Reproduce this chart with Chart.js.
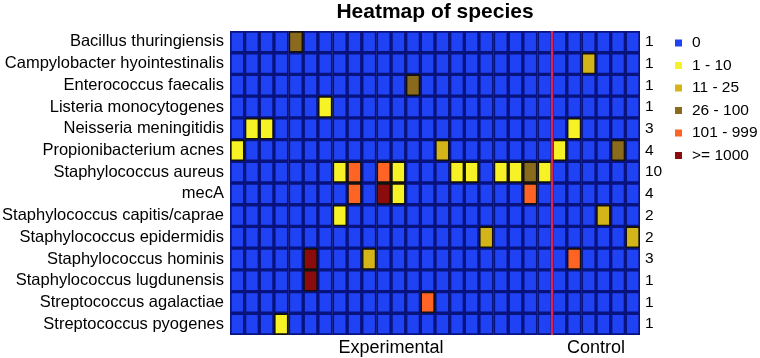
<!DOCTYPE html>
<html>
<head>
<meta charset="utf-8">
<script src="https://cdn.jsdelivr.net/npm/chart.js@4"></script>
<style>
  html, body { margin: 0; padding: 0; background: #fff; }
  #wrap { width: 760px; height: 358px; }
</style>
</head>
<body>
<div id="wrap"><canvas id="c" width="760" height="358"></canvas></div>
<script>
const species = [
  'Bacillus thuringiensis', 'Campylobacter hyointestinalis', 'Enterococcus faecalis',
  'Listeria monocytogenes', 'Neisseria meningitidis', 'Propionibacterium acnes',
  'Staphylococcus aureus', 'mecA', 'Staphylococcus capitis/caprae',
  'Staphylococcus epidermidis', 'Staphylococcus hominis', 'Staphylococcus lugdunensis',
  'Streptococcus agalactiae', 'Streptococcus pyogenes'
];
const counts = [1, 1, 1, 1, 3, 4, 10, 4, 2, 2, 3, 1, 1, 1];
const levelLabels = ['0', '1 - 10', '11 - 25', '26 - 100', '101 - 999', '>= 1000'];
const levelColors = ['#1f42f4', '#f6f226', '#d3b51a', '#8a6a1c', '#ff6424', '#8c0b0c'];
const groupLabels = ['Experimental', 'Control'];
const groupTickAt = [11, 25];
const controlStart = 22;
const nColumns = 28;

// level index per sample column (0 = none, 1 = 1-10, 2 = 11-25, 3 = 26-100, 4 = 101-999, 5 = >=1000)
const bacillus      = [0,0,0,0,3,0,0, 0,0,0,0,0,0,0, 0,0,0,0,0,0,0, 0,0,0,0,0,0,0];
const campylobacter = [0,0,0,0,0,0,0, 0,0,0,0,0,0,0, 0,0,0,0,0,0,0, 0,0,0,2,0,0,0];
const enterococcus  = [0,0,0,0,0,0,0, 0,0,0,0,0,3,0, 0,0,0,0,0,0,0, 0,0,0,0,0,0,0];
const listeria      = [0,0,0,0,0,0,1, 0,0,0,0,0,0,0, 0,0,0,0,0,0,0, 0,0,0,0,0,0,0];
const neisseria     = [0,1,1,0,0,0,0, 0,0,0,0,0,0,0, 0,0,0,0,0,0,0, 0,0,1,0,0,0,0];
const propioni      = [1,0,0,0,0,0,0, 0,0,0,0,0,0,0, 2,0,0,0,0,0,0, 0,1,0,0,0,3,0];
const staphAureus   = [0,0,0,0,0,0,0, 1,4,0,4,1,0,0, 0,1,1,0,1,1,3, 1,0,0,0,0,0,0];
const mecA          = [0,0,0,0,0,0,0, 0,4,0,5,1,0,0, 0,0,0,0,0,0,4, 0,0,0,0,0,0,0];
const staphCapitis  = [0,0,0,0,0,0,0, 1,0,0,0,0,0,0, 0,0,0,0,0,0,0, 0,0,0,0,2,0,0];
const staphEpid     = [0,0,0,0,0,0,0, 0,0,0,0,0,0,0, 0,0,0,2,0,0,0, 0,0,0,0,0,0,2];
const staphHominis  = [0,0,0,0,0,5,0, 0,0,2,0,0,0,0, 0,0,0,0,0,0,0, 0,0,4,0,0,0,0];
const staphLugd     = [0,0,0,0,0,5,0, 0,0,0,0,0,0,0, 0,0,0,0,0,0,0, 0,0,0,0,0,0,0];
const strepAgal     = [0,0,0,0,0,0,0, 0,0,0,0,0,0,4, 0,0,0,0,0,0,0, 0,0,0,0,0,0,0];
const strepPyo      = [0,0,0,1,0,0,0, 0,0,0,0,0,0,0, 0,0,0,0,0,0,0, 0,0,0,0,0,0,0];

const grid = [bacillus, campylobacter, enterococcus, listeria, neisseria, propioni,
  staphAureus, mecA, staphCapitis, staphEpid, staphHominis, staphLugd, strepAgal, strepPyo];

const FONT = '"Liberation Sans", Arial, Helvetica, sans-serif';

const datasets = [];
for (let c = 0; c < nColumns; c++) {
  datasets.push({
    label: 'col' + c,
    data: species.map(() => 1),
    backgroundColor: grid.map(r => levelColors[r[c]]),
    borderColor: grid.map(r => r[c] ? '#121212' : '#09137e'),
    borderWidth: 2,
    borderSkipped: false,
    barPercentage: 1,
    categoryPercentage: 1
  });
}

const overlay = {
  id: 'overlay',
  afterDatasetsDraw(chart) {
    const ctx = chart.ctx, a = chart.chartArea;
    const x = chart.scales.x.getPixelForValue(controlStart);
    ctx.save();
    ctx.strokeStyle = '#dc2450';
    ctx.lineWidth = 2.5;
    ctx.beginPath();
    ctx.moveTo(x, a.top);
    ctx.lineTo(x, a.bottom);
    ctx.stroke();
    ctx.restore();
  },
  afterDraw(chart) {
    const ctx = chart.ctx;
    ctx.save();
    ctx.font = '15.5px ' + FONT;
    ctx.textBaseline = 'middle';
    ctx.textAlign = 'left';
    levelLabels.forEach((lab, i) => {
      const y = 43 + i * 22.5;
      ctx.fillStyle = levelColors[i];
      ctx.fillRect(675, y - 3.5, 7, 7);
      ctx.fillStyle = '#000';
      ctx.fillText(lab, 692, y);
    });
    ctx.restore();
  }
};

new Chart(document.getElementById('c'), {
  type: 'bar',
  data: { labels: species, datasets },
  options: {
    indexAxis: 'y',
    responsive: false,
    animation: false,
    events: [],
    layout: { padding: 0 },
    plugins: {
      legend: { display: false },
      tooltip: { enabled: false },
      title: {
        display: true,
        text: 'Heatmap of species',
        fullSize: false,
        color: '#000',
        font: { family: FONT, size: 21, weight: 'bold', lineHeight: 1 },
        padding: { top: 2, bottom: 8 }
      }
    },
    scales: {
      x: {
        type: 'linear',
        stacked: true,
        min: 0,
        max: nColumns,
        grid: { display: false, drawTicks: false },
        border: { display: false },
        afterBuildTicks(ax) { ax.ticks = groupTickAt.map(v => ({ value: v })); },
        afterFit(s) { s.height = 23; },
        ticks: {
          autoSkip: false,
          maxRotation: 0,
          padding: 4,
          color: '#000',
          font: { family: FONT, size: 18, lineHeight: 1 },
          callback: (v) => { const i = groupTickAt.indexOf(v); return i >= 0 ? groupLabels[i] : ''; }
        }
      },
      y: {
        type: 'category',
        stacked: true,
        grid: { display: false, drawTicks: false },
        border: { display: false },
        afterFit(s) { s.width = 230; },
        ticks: { autoSkip: false, padding: 6, color: '#000', font: { family: FONT, size: 16.5 } }
      },
      y2: {
        type: 'category',
        position: 'right',
        labels: counts.map(String),
        offset: true,
        grid: { display: false, drawTicks: false },
        border: { display: false },
        afterFit(s) { s.width = 120; },
        ticks: { autoSkip: false, padding: 5, color: '#000', font: { family: FONT, size: 15.5 } }
      }
    }
  },
  plugins: [overlay]
});
</script>
</body>
</html>
